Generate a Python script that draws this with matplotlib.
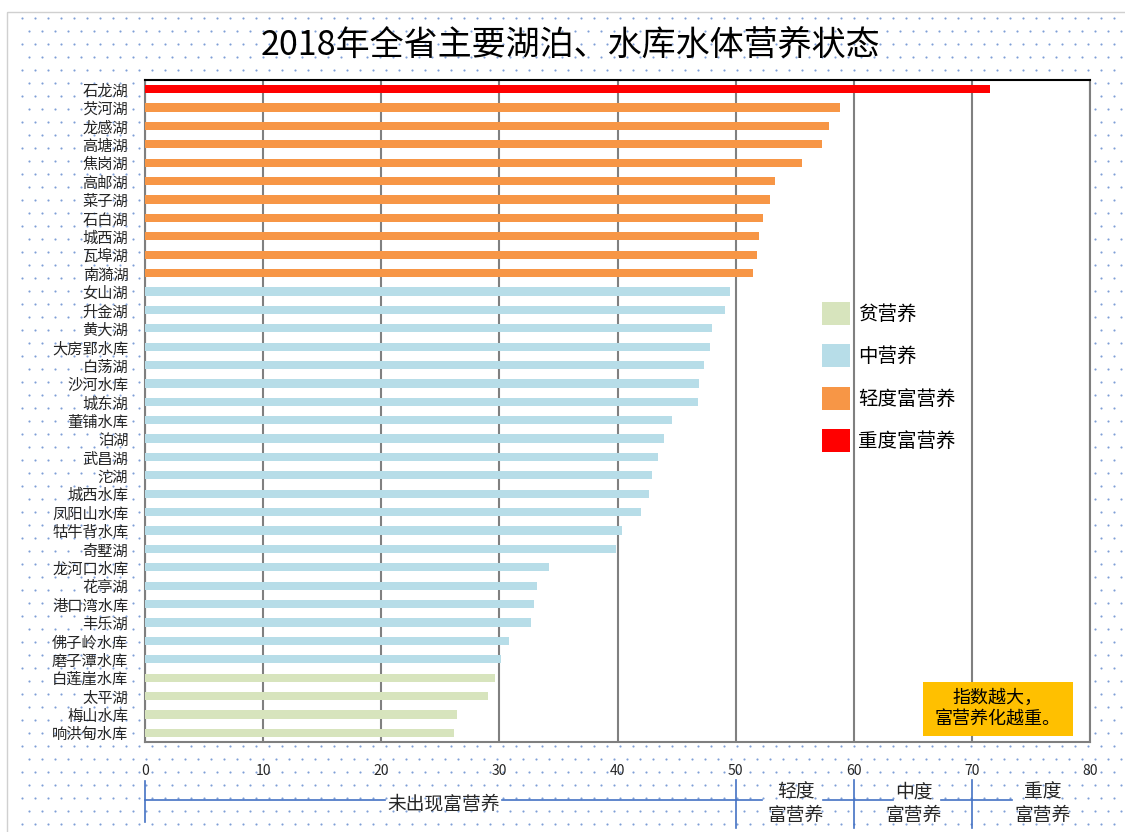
import matplotlib
matplotlib.use('Agg')
import matplotlib.pyplot as plt
import matplotlib.transforms as mtransforms
from matplotlib.patches import Patch, Rectangle
import numpy as np

plt.rcParams['font.family'] = ['Noto Sans CJK SC', 'DejaVu Sans']

# --- data (top to bottom as in the chart) ---
names = ['石龙湖', '芡河湖', '龙感湖', '高塘湖', '焦岗湖', '高邮湖', '菜子湖', '石白湖',
         '城西湖', '瓦埠湖', '南漪湖', '女山湖', '升金湖', '黄大湖', '大房郢水库', '白荡湖',
         '沙河水库', '城东湖', '董铺水库', '泊湖', '武昌湖', '沱湖', '城西水库', '凤阳山水库',
         '牯牛背水库', '奇墅湖', '龙河口水库', '花亭湖', '港口湾水库', '丰乐湖', '佛子岭水库',
         '磨子潭水库', '白莲崖水库', '太平湖', '梅山水库', '响洪甸水库']
values = [71.5, 58.8, 57.9, 57.3, 55.6, 53.3, 52.9, 52.3,
          52.0, 51.8, 51.5, 49.5, 49.1, 48.0, 47.8, 47.3,
          46.9, 46.8, 44.6, 43.9, 43.4, 42.9, 42.7, 42.0,
          40.4, 39.9, 34.2, 33.2, 32.9, 32.7, 30.8,
          30.1, 29.6, 29.0, 26.4, 26.2]
grades = (['重度富营养'] + ['轻度富营养'] * 10 + ['中营养'] * 21 + ['贫营养'] * 4)

grade_order = ['贫营养', '中营养', '轻度富营养', '重度富营养']
grade_colors = {'贫营养': '#D7E4BD', '中营养': '#B7DDE8',
                '轻度富营养': '#F79646', '重度富营养': '#FF0000'}

x_ticks = [0, 10, 20, 30, 40, 50, 60, 70, 80]
band_edges = [0, 50, 60, 70]
band_labels = ['未出现富营养', '轻度\n富营养', '中度\n富营养', '重度\n富营养']
band_label_x = [25.3, 55.1, 65.1, 76.0]
band_segments = [(0, 20.3), (30.2, 52.2), (57.4, 63.3), (67.4, 73.4)]

W, H = 1125, 832
fig = plt.figure(figsize=(W / 100, H / 100), dpi=100)

# dotted chart-area background
bg = fig.add_axes([0, 0, 1, 1], zorder=-5)
bg.set_xlim(0, W)
bg.set_ylim(H, 0)
bg.axis('off')
gx, gy = np.meshgrid(np.arange(22, W, 13.0), np.arange(18, H, 13.0))
gx = gx + (np.arange(gx.shape[0])[:, None] % 2) * 6.5
bg.scatter(gx.ravel(), gy.ravel(), s=2.4, color='#7F9FD6', linewidths=0)
bg.add_patch(Rectangle((7, 12), W, H, fill=False, edgecolor='#D0D0D0', lw=1))

ax = fig.add_axes([145 / W, 1 - 742 / H, 945 / W, 662 / H])
ax.set_facecolor('white')

y = np.arange(len(names))
colors = [grade_colors[g] for g in grades]
ax.barh(y, values, height=0.45, color=colors, zorder=3)

ax.set_xlim(0, 80)
ax.set_ylim(len(names) - 0.5, -0.5)
ax.set_yticks(y)
ax.set_yticklabels(names, fontsize=11, color='#262626')
ax.set_xticks(x_ticks)
ax.set_xticklabels([str(t) for t in x_ticks], fontsize=10, color='#262626')
ax.tick_params(axis='both', length=0)
ax.tick_params(axis='y', pad=12)
ax.tick_params(axis='x', pad=16)
ax.xaxis.grid(True, color='#808080', lw=1.5, zorder=1)
ax.set_axisbelow(True)
for side in ['left', 'right', 'bottom']:
    ax.spines[side].set_color('#7F7F7F')
    ax.spines[side].set_linewidth(1.5)
ax.spines['top'].set_color('#000000')
ax.spines['top'].set_linewidth(1.5)

fig.text(0.507, 1 - 45 / H, '2018年全省主要湖泊、水库水体营养状态',
         ha='center', va='center', fontsize=24.5, color='#000000')

# legend
handles = [Patch(facecolor=grade_colors[g], edgecolor='none') for g in grade_order]
ax.legend(handles, grade_order, loc='upper left',
          bbox_to_anchor=((822 - 145) / 945, (742 - 302) / 662),
          frameon=False, fontsize=14, handlelength=1.44, handleheight=1.44,
          labelspacing=1.0, handletextpad=0.4, borderaxespad=0, borderpad=0)

# note box
ax.add_patch(Rectangle((0.823, 0.009), 0.159, 0.082, transform=ax.transAxes,
                       facecolor='#FFC000', edgecolor='none', zorder=4))
ax.text(0.9025, 0.05, '指数越大，\n富营养化越重。', transform=ax.transAxes,
        ha='center', va='center', fontsize=13, linespacing=1.25, zorder=5)

# trophic bands below the axis
trans = mtransforms.blended_transform_factory(ax.transData, fig.transFigure)
line_y = 1 - 800 / H
for x0, x1 in band_segments:
    ax.plot([x0, x1], [line_y, line_y], color='#4472C4', lw=1.2,
            transform=trans, clip_on=False)
for i, xe in enumerate(band_edges):
    top, bot = (781, 822) if i == 0 else (780, 828)
    ax.plot([xe, xe], [1 - top / H, 1 - bot / H], color='#4472C4', lw=1.2,
            transform=trans, clip_on=False)
for lab, xl in zip(band_labels, band_label_x):
    ax.text(xl, 1 - 804 / H, lab, transform=trans, ha='center', va='center',
            fontsize=13.5, linespacing=1.15, color='#262626', clip_on=False)

fig.savefig('out.png', dpi=100, facecolor='white')
